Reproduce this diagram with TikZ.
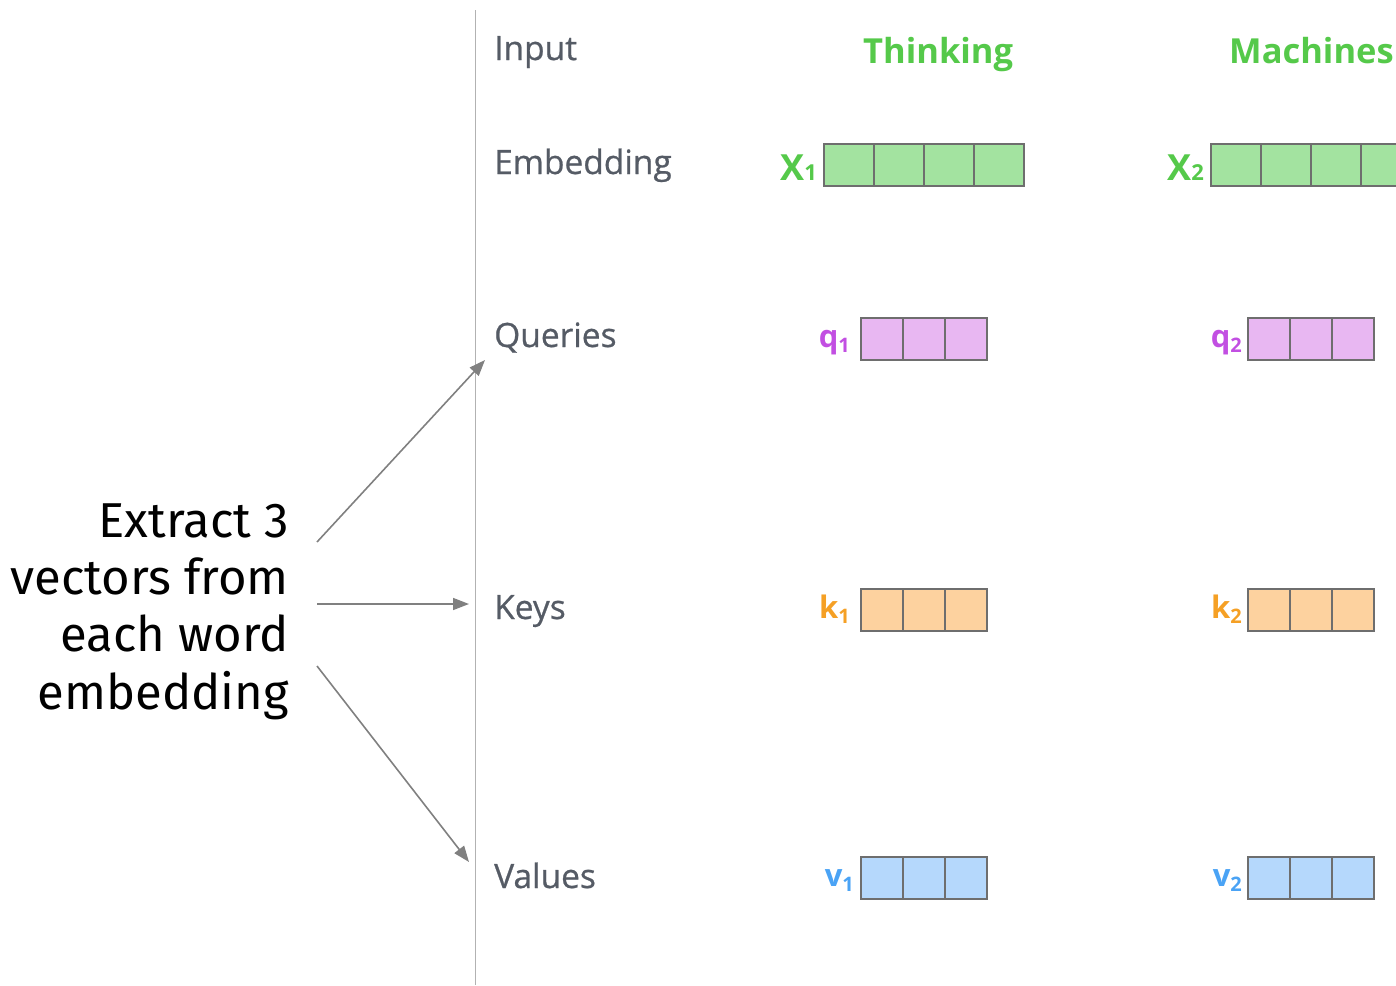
\documentclass[tikz,border=0pt]{standalone}
\usepackage{fontspec}
\setmainfont{Open Sans}
\newfontfamily\rowfont{Open Sans}[FakeBold=0.7]
\newfontfamily\leftfont{Fira Sans}
\usetikzlibrary{arrows.meta,calc}
\definecolor{rowgray}{HTML}{555B65}
\definecolor{gtext}{HTML}{55C94A}
\definecolor{gfill}{HTML}{A3E3A0}
\definecolor{ptext}{HTML}{C24FE2}
\definecolor{pfill}{HTML}{E8B7F2}
\definecolor{otext}{HTML}{F5A025}
\definecolor{ofill}{HTML}{FDD29F}
\definecolor{btext}{HTML}{4AA3F5}
\definecolor{bfill}{HTML}{B5D8FC}
\definecolor{cellborder}{HTML}{6E6E6E}
\definecolor{arrowgray}{HTML}{808080}
\begin{document}
\begin{tikzpicture}[x=1pt,y=-1pt,
  rowlbl/.style={anchor=base west, inner sep=0, text=rowgray, font=\rowfont\fontsize{33.5}{40}\selectfont},
  word/.style={anchor=base west, inner sep=0, text=gtext, font=\bfseries\fontsize{34.5}{40}\selectfont},
  cell/.style={draw=cellborder, line width=1.8pt, anchor=north west, minimum height=42, inner sep=0},
  wcell/.style={cell, minimum width=50},
  ncell/.style={cell, minimum width=42},
  veclbl/.style={anchor=base east, inner sep=0, font=\bfseries\fontsize{36}{40}\selectfont},
  qkv/.style={veclbl, font=\bfseries\fontsize{31}{36}\selectfont},
  conn/.style={draw=arrowgray, line width=1.6pt, -{Triangle[length=16pt,width=12pt]}}
]
\useasboundingbox (0,0) rectangle (1396,985);
\draw[black!30, line width=1.3pt] (475.5,10) -- (475.5,985);

% row labels
\node[rowlbl] (input) at (494,60) {Input};
\node[rowlbl] (emb) at (494,174) {Embedding};
\node[rowlbl] (queries) at (494,347) {Queries};
\node[rowlbl] (keys) at (494,619) {Keys};
\node[rowlbl] (values) at (494,888) {Values};

% words
\node[word] (w1) at (863,63) {Thinking};
\node[word] (w2) at (1229,63) {Machines};

% embeddings
\foreach \i in {0,...,3} {
  \node[wcell, fill=gfill] (xa\i) at (823+50*\i,143) {};
  \node[wcell, fill=gfill] (xb\i) at (1210+50*\i,143) {};
}
\node[veclbl, text=gtext] (xl1) at ([xshift=-6pt,yshift=6pt]xa0.south west) {X{\fontsize{22}{24}\selectfont 1}};
\node[veclbl, text=gtext] (xl2) at ([xshift=-6pt,yshift=6pt]xb0.south west) {X{\fontsize{22}{24}\selectfont 2}};

% queries, keys, values
\foreach \i in {0,1,2} {
  \node[ncell, fill=pfill] (qa\i) at (860+42*\i,317) {};
  \node[ncell, fill=pfill] (qb\i) at (1247+42*\i,317) {};
  \node[ncell, fill=ofill] (ka\i) at (860+42*\i,588) {};
  \node[ncell, fill=ofill] (kb\i) at (1247+42*\i,588) {};
  \node[ncell, fill=bfill] (va\i) at (860+42*\i,856) {};
  \node[ncell, fill=bfill] (vb\i) at (1247+42*\i,856) {};
}
\node[qkv, text=ptext] (ql1) at ([xshift=-10pt,yshift=13pt]qa0.south west) {q\raisebox{-5pt}{\fontsize{20}{24}\selectfont 1}};
\node[qkv, text=ptext] (ql2) at ([xshift=-5pt,yshift=13pt]qb0.south west) {q\raisebox{-5pt}{\fontsize{20}{24}\selectfont 2}};
\node[qkv, text=otext] (kl1) at ([xshift=-10pt,yshift=13pt]ka0.south west) {k\raisebox{-5pt}{\fontsize{20}{24}\selectfont 1}};
\node[qkv, text=otext] (kl2) at ([xshift=-5pt,yshift=13pt]kb0.south west) {k\raisebox{-5pt}{\fontsize{20}{24}\selectfont 2}};
\node[qkv, text=btext] (vl1) at ([xshift=-6pt,yshift=13pt]va0.south west) {v\raisebox{-5pt}{\fontsize{20}{24}\selectfont 1}};
\node[qkv, text=btext] (vl2) at ([xshift=-5pt,yshift=13pt]vb0.south west) {v\raisebox{-5pt}{\fontsize{20}{24}\selectfont 2}};

% left explanation
\node[anchor=base east, align=right, inner sep=0, font=\leftfont\fontsize{49}{57.3}\selectfont] (expl) at (289,709) {Extract 3\\vectors from\\each word\\embedding};

\coordinate (s1) at (317,542);
\coordinate (s2) at (317,604);
\coordinate (s3) at (317,666);
\coordinate (t1) at (485,360);
\coordinate (t2) at (469,604);
\coordinate (t3) at (469,862);
\draw[conn] (s1) -- (t1);
\draw[conn] (s2) -- (t2);
\draw[conn] (s3) -- (t3);
\end{tikzpicture}
\end{document}
